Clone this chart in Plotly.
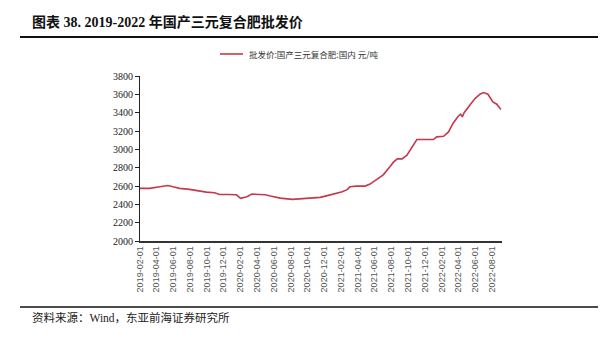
import plotly.graph_objects as go

# Wholesale price of domestic compound fertilizer (yuan/ton)
dates = [
    "2019-02-01", "2019-03-08", "2019-04-14", "2019-05-13", "2019-06-01", "2019-06-25",
    "2019-07-31", "2019-08-31", "2019-09-30", "2019-10-30", "2019-11-17", "2019-12-17",
    "2020-01-17", "2020-02-01", "2020-02-24", "2020-03-13", "2020-04-07", "2020-05-01",
    "2020-05-19", "2020-06-24", "2020-08-07", "2020-09-05", "2020-10-11", "2020-11-16",
    "2020-12-16", "2021-01-16", "2021-02-04", "2021-02-22", "2021-03-04", "2021-03-28",
    "2021-04-28", "2021-05-16", "2021-06-09", "2021-07-03", "2021-07-27", "2021-08-09",
    "2021-08-23", "2021-09-09", "2021-09-27", "2021-10-15", "2021-11-02", "2021-11-26",
    "2022-01-01", "2022-01-13", "2022-02-07", "2022-02-25", "2022-03-13", "2022-04-01",
    "2022-04-10", "2022-04-16", "2022-04-22", "2022-05-13", "2022-06-01", "2022-06-19",
    "2022-07-02", "2022-07-18", "2022-08-05", "2022-08-19", "2022-09-03",
]
prices = [
    2574, 2574, 2591, 2606, 2591, 2574,
    2563, 2544, 2533, 2526, 2508, 2508,
    2504, 2465, 2483, 2512, 2512, 2504,
    2490, 2468, 2454, 2461, 2468, 2476,
    2498, 2520, 2537, 2560, 2591, 2599,
    2599, 2621, 2672, 2722, 2809, 2860,
    2896, 2896, 2936, 3027, 3107, 3107,
    3107, 3136, 3143, 3190, 3282, 3361,
    3383, 3354, 3397, 3481, 3554, 3601,
    3619, 3601, 3517, 3492, 3434,
]

tick_dates = [
    "2019-02-01", "2019-04-01", "2019-06-01", "2019-08-01", "2019-10-01", "2019-12-01",
    "2020-02-01", "2020-04-01", "2020-06-01", "2020-08-01", "2020-10-01", "2020-12-01",
    "2021-02-01", "2021-04-01", "2021-06-01", "2021-08-01", "2021-10-01", "2021-12-01",
    "2022-02-01", "2022-04-01", "2022-06-01", "2022-08-01",
]
y_ticks = [2000, 2200, 2400, 2600, 2800, 3000, 3200, 3400, 3600, 3800]

title_text = "图表 38. 2019-2022 年国产三元复合肥批发价"
legend_text = "批发价:国产三元复合肥:国内 元/吨"
source_text = "资料来源：Wind，东亚前海证券研究所"

W, H = 603, 338
L, R, T, B = 140, 502, 76, 241
LINE_COLOR = "#C4394D"


def px_x(x):
    return (x - L) / (R - L)


def px_y(y):
    return (B - y) / (B - T)


fig = go.Figure()
fig.add_trace(go.Scatter(
    x=dates, y=prices, mode="lines",
    line=dict(color=LINE_COLOR, width=1.6),
    showlegend=False, hoverinfo="skip",
))

fig.update_layout(
    width=W, height=H,
    margin=dict(l=L, r=W - R, t=T, b=H - B),
    paper_bgcolor="white", plot_bgcolor="white",
    xaxis=dict(
        type="date",
        range=["2019-02-01", "2022-09-07"],
        tickmode="array", tickvals=tick_dates, ticktext=tick_dates,
        tickangle=-90,
        tickfont=dict(family="Liberation Sans", size=9, color="#555555"),
        showgrid=False, zeroline=False,
        showline=True, linecolor="#333333", linewidth=1.5,
        ticks="",
    ),
    yaxis=dict(
        range=[2000, 3800],
        tickmode="array", tickvals=y_ticks,
        tickfont=dict(family="Liberation Serif", size=10, color="#222222"),
        showgrid=False, zeroline=False,
        showline=True, linecolor="#222222", linewidth=1,
        ticks="outside", ticklen=4, tickcolor="#222222",
    ),
    shapes=[
        # rule under the heading
        dict(type="line", xref="paper", yref="paper",
             x0=px_x(20), x1=px_x(598), y0=px_y(37), y1=px_y(37),
             line=dict(color="#111111", width=2)),
        # rule above the source line
        dict(type="line", xref="paper", yref="paper",
             x0=px_x(20), x1=px_x(598), y0=px_y(307), y1=px_y(307),
             line=dict(color="#111111", width=1.5)),
        # legend swatch
        dict(type="line", xref="paper", yref="paper",
             x0=px_x(220), x1=px_x(243), y0=px_y(54), y1=px_y(54),
             line=dict(color=LINE_COLOR, width=1.6)),
    ],
    annotations=[
        dict(text=title_text, xref="paper", yref="paper",
             x=px_x(30), y=px_y(22), xanchor="left", yanchor="middle",
             showarrow=False,
             font=dict(family="Liberation Serif, Noto Sans CJK SC", size=14,
                       color="#111111", weight="bold")),
        dict(text=legend_text, xref="paper", yref="paper",
             x=px_x(247), y=px_y(54), xanchor="left", yanchor="middle",
             showarrow=False,
             font=dict(family="Noto Sans CJK SC", size=8.5, color="#333333")),
        dict(text=source_text, xref="paper", yref="paper",
             x=px_x(30), y=px_y(317), xanchor="left", yanchor="middle",
             showarrow=False,
             font=dict(family="Liberation Serif, Noto Sans CJK SC", size=11.5,
                       color="#222222")),
    ],
)

fig.write_html("out.html")
